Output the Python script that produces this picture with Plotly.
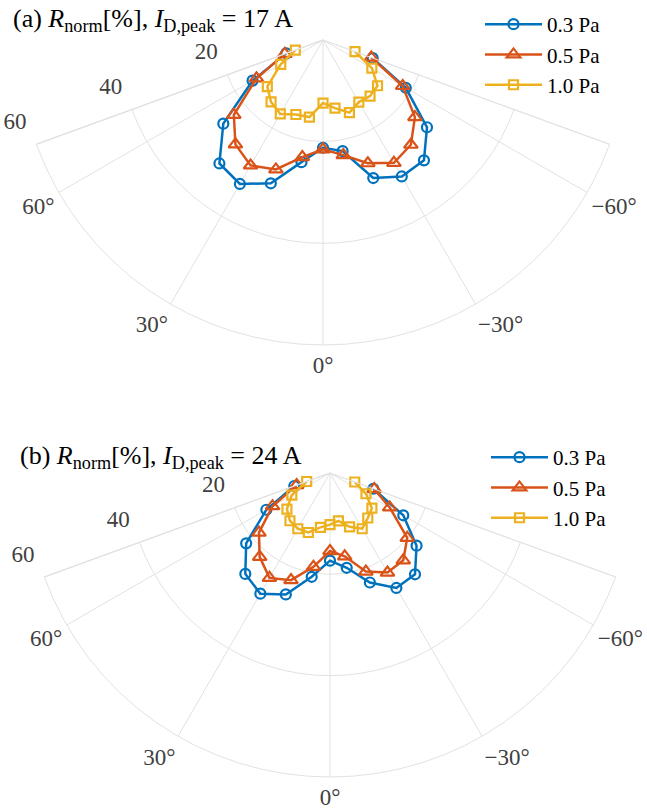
import plotly.graph_objects as go

# Angles (degrees) of the measurement points, 0 deg at the bottom
theta = [-70, -60, -50, -40, -30, -20, -10, 0, 10, 20, 30, 40, 50, 60, 70]

# (a) I_D,peak = 17 A : normalised deposition rate R_norm [%]
a_03 = [10.4, 18.8, 26.7, 30.9, 31.0, 28.9, 22.2, 21.2, 24.4, 30.0, 32.7, 31.7, 25.6, 16.0, 7.7]
a_05 = [10.1, 18.1, 23.6, 26.9, 27.9, 25.8, 23.0, 21.5, 23.4, 27.1, 28.5, 26.8, 22.9, 15.1, 8.0]
a_10 = [6.7, 11.1, 14.0, 14.4, 14.1, 15.2, 13.6, 12.4, 15.4, 15.6, 16.8, 15.9, 14.3, 9.6, 5.8]

# (b) I_D,peak = 24 A
b_03 = [9.1, 16.7, 22.3, 26.1, 26.2, 23.0, 19.0, 17.3, 20.8, 25.5, 27.5, 26.0, 21.6, 14.5, 7.5]
b_05 = [9.3, 13.6, 19.9, 22.5, 22.7, 20.7, 16.7, 15.4, 18.8, 22.5, 23.9, 21.6, 18.3, 13.1, 7.0]
b_10 = [5.2, 8.2, 10.8, 11.6, 12.7, 11.3, 9.6, 10.2, 10.9, 12.5, 12.7, 12.3, 11.1, 8.7, 4.9]

series_names = ["0.3 Pa", "0.5 Pa", "1.0 Pa"]
colors = ["#0072BD", "#D95319", "#EDB120"]
symbols = ["circle-open", "triangle-up-open", "square-open"]
msizes = [10, 12, 9]

ang_vals = [-70, -60, -30, 0, 30, 60, 70]
ang_text = ["", "\u221260\u00b0", "\u221230\u00b0", "0\u00b0", "30\u00b0", "60\u00b0", ""]
r_vals = [20, 40, 60]
r_text = ["20", "40", "60"]

titles = [
    "(a) <i>R</i><sub>norm</sub>[%], <i>I</i><sub>D,peak</sub> = 17\u2009A",
    "(b) <i>R</i><sub>norm</sub>[%], <i>I</i><sub>D,peak</sub> = 24\u2009A",
]

FONT = "Liberation Serif"
GRID = "#e2e2e2"
W, H = 647, 809

fig = go.Figure()

for k, (polar, legend, data) in enumerate([
    ("polar", "legend", [a_03, a_05, a_10]),
    ("polar2", "legend2", [b_03, b_05, b_10]),
]):
    for name, col, sym, ms, r in zip(series_names, colors, symbols, msizes, data):
        fig.add_trace(go.Scatterpolar(
            r=r, theta=theta, name=name, subplot=polar, legend=legend,
            mode="lines+markers",
            line=dict(color=col, width=2.5),
            marker=dict(symbol=sym, size=ms, color=col, line=dict(width=2.2, color=col)),
        ))


def polar_layout(x0, x1, y0, y1):
    return dict(
        domain=dict(x=[x0 / W, x1 / W], y=[1 - y1 / H, 1 - y0 / H]),
        sector=[-160, -20],
        bgcolor="white",
        angularaxis=dict(
            rotation=-90, direction="clockwise",
            tickmode="array", tickvals=ang_vals, ticktext=ang_text,
            showline=True, linecolor=GRID, linewidth=1,
            gridcolor=GRID, gridwidth=1, ticks="",
            tickfont=dict(family=FONT, size=23, color="#404040"),
        ),
        radialaxis=dict(
            range=[0, 60], tickmode="array", tickvals=r_vals, ticktext=r_text,
            showline=True, linecolor=GRID, linewidth=1,
            gridcolor=GRID, gridwidth=1,
            ticks="outside", ticklen=12, tickcolor="rgba(0,0,0,0)",
            side="clockwise", tickangle=-160,
            tickfont=dict(family=FONT, size=23, color="#404040"),
        ),
    )


legend_common = dict(
    xanchor="left", yanchor="top", bgcolor="rgba(0,0,0,0)",
    font=dict(family=FONT, size=21, color="black"),
    itemwidth=57, tracegroupgap=0,
)

fig.update_layout(
    width=W, height=H,
    margin=dict(l=0, r=0, t=0, b=0),
    paper_bgcolor="white", plot_bgcolor="white",
    polar=polar_layout(36.4, 609.6, 40, 345),
    polar2=polar_layout(44.3, 615.7, 473, 777),
    legend=dict(x=480 / W, y=1 - 4 / H, **legend_common),
    legend2=dict(x=486 / W, y=1 - 437 / H, **legend_common),
    showlegend=True,
)

for title, ypix, xpix in zip(titles, [20, 457], [11, 18]):
    fig.add_annotation(
        text=title, x=xpix / W, y=1 - ypix / H, xref="paper", yref="paper",
        xanchor="left", yanchor="middle", showarrow=False,
        font=dict(family=FONT, size=26, color="black"),
    )

fig.write_html("out.html")
